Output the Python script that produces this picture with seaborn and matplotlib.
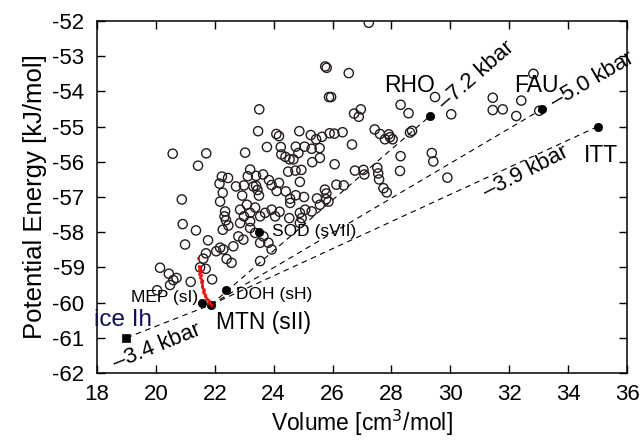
import matplotlib
matplotlib.use("Agg")
import matplotlib.pyplot as plt
import seaborn as sns
import pandas as pd

# ---------------- data ----------------
# open circles: hypothetical hydrate frameworks (volume, potential energy)
vol = [27.23, 25.75, 25.80, 26.55, 25.88, 25.95, 23.51, 26.73, 26.96, 26.89,
       28.31, 28.58, 29.48, 30.03, 31.44, 31.44, 31.78, 32.41, 32.24, 32.82,
       33.02,
       23.47, 24.87, 24.09, 24.18, 25.26, 25.44, 25.64, 25.90, 26.06, 26.34,
       27.43, 27.61, 27.78, 27.91, 28.04, 27.95, 28.63, 28.70, 26.66,
       23.77, 24.24, 24.75, 25.05, 25.29, 25.56, 20.57, 21.71, 23.03, 24.26,
       24.40, 24.54, 24.67, 24.84, 25.31, 25.57, 26.07, 28.31, 29.37, 29.42,
       21.43, 22.24, 22.45, 23.20, 23.12, 23.40, 23.64, 24.49, 24.74, 24.94,
       24.89, 26.76, 27.05, 27.08, 27.52, 27.55, 27.58, 28.29, 29.90,
       22.16, 22.72, 22.99, 23.31, 23.40, 23.45, 23.84, 23.93, 24.18, 24.10,
       24.41, 22.27, 22.93, 23.50, 24.56, 24.75, 25.03, 25.47, 25.74, 25.79,
       26.13, 26.38, 27.73, 27.84, 20.88, 22.18,
       23.09, 23.37, 23.20, 22.99, 23.54, 23.71, 23.93, 24.05, 24.20, 24.56,
       24.89, 24.95, 25.29, 25.57, 25.86, 22.35, 22.33, 22.38, 22.46, 22.27,
       22.86, 24.53, 25.07, 22.86, 23.20, 20.91, 24.89, 25.78,
       21.36, 22.80, 22.63, 22.97, 23.20, 23.37, 23.65, 23.54, 23.82, 23.93,
       23.54, 21.77, 20.99, 22.18, 22.05, 21.70, 22.29, 22.40, 22.57, 21.61,
       21.50, 21.69, 21.91, 20.14, 20.44, 20.70, 20.59, 20.48, 21.18, 20.04]
energy = [-52.05, -53.29, -53.33, -53.48, -54.16, -54.16, -54.51, -54.63, -54.51, -54.72,
          -54.38, -54.62, -54.16, -54.65, -54.18, -54.53, -54.51, -54.26, -54.70, -53.50,
          -54.55,
          -55.13, -55.13, -55.21, -55.27, -55.24, -55.36, -55.29, -55.19, -55.20, -55.16,
          -55.08, -55.21, -55.36, -55.22, -55.36, -55.30, -55.17, -55.12, -55.51,
          -55.58, -55.58, -55.57, -55.57, -55.63, -55.61, -55.77, -55.76, -55.74, -55.79,
          -55.86, -55.93, -55.93, -55.75, -56.01, -55.89, -56.07, -55.84, -55.75, -55.99,
          -56.11, -56.42, -56.46, -56.22, -56.41, -56.40, -56.36, -56.28, -56.25, -56.23,
          -56.57, -56.25, -56.23, -56.36, -56.17, -56.33, -56.50, -56.26, -56.45,
          -56.62, -56.70, -56.67, -56.70, -56.68, -56.80, -56.52, -56.66, -56.60, -56.83,
          -56.84, -56.88, -56.96, -56.96, -57.05, -56.95, -57.00, -57.04, -56.79, -56.90,
          -56.65, -56.67, -56.75, -56.87, -57.07, -57.13,
          -57.22, -57.30, -57.45, -57.55, -57.55, -57.45, -57.36, -57.55, -57.42, -57.17,
          -57.45, -57.60, -57.41, -57.22, -57.13, -57.41, -57.55, -57.66, -57.81, -57.93,
          -57.36, -57.60, -57.36, -57.74, -57.69, -57.77, -57.74, -57.06,
          -57.95, -58.12, -58.40, -58.21, -57.88, -58.02, -58.12, -58.30, -58.30, -58.49,
          -58.82, -58.23, -58.35, -58.44, -58.54, -58.60, -58.49, -58.76, -58.87, -58.75,
          -59.00, -59.04, -59.34, -59.01, -59.18, -59.30, -59.36, -59.50, -59.41, -59.65]

# red markers: simulation trajectory near sI / sII
red_vol = [21.44, 21.45, 21.47, 21.49, 21.46, 21.50, 21.48, 21.52, 21.50, 21.53,
           21.55, 21.52, 21.56, 21.58, 21.55, 21.60, 21.62, 21.60, 21.65, 21.68,
           21.66, 21.70, 21.73, 21.76, 21.80, 21.78, 21.84, 21.87, 21.52, 21.58]
red_energy = [-58.73, -58.95, -59.00, -59.05, -59.08, -59.12, -59.18, -59.22, -59.28, -59.33,
              -59.38, -59.42, -59.47, -59.52, -59.56, -59.60, -59.65, -59.70, -59.74, -59.78,
              -59.82, -59.86, -59.90, -59.93, -59.96, -60.00, -60.02, -60.06, -59.10, -59.40]

# labelled phases
phase_names = ["MEP", "MTN", "DOH", "SOD", "RHO", "FAU", "ITT"]
phase_vol = [21.57, 21.87, 22.38, 23.51, 29.31, 33.10, 35.00]
phase_energy = [-60.00, -60.06, -59.65, -57.99, -54.70, -54.51, -55.00]
ice_vol = [19.0]
ice_energy = [-61.0]

# common-tangent lines (start phase, end phase) and their pressures
tangent_start = ["ice", "MTN", "MTN", "MTN"]
tangent_end = ["MTN", "RHO", "FAU", "ITT"]
pressure_labels = ["\u20133.4 kbar", "\u20137.2 kbar", "\u20135.0 kbar", "\u20133.9 kbar"]

x_ticks = [18, 20, 22, 24, 26, 28, 30, 32, 34, 36]
y_ticks = [-62, -61, -60, -59, -58, -57, -56, -55, -54, -53, -52]

# ---------------- plot ----------------
sns.set_theme(style="ticks")
plt.rcParams["font.family"] = ["Liberation Sans", "DejaVu Sans"]
plt.rcParams["axes.unicode_minus"] = False
for k in ["text.color", "axes.labelcolor", "xtick.color", "ytick.color", "axes.edgecolor"]:
    plt.rcParams[k] = "black"

fig = plt.figure(figsize=(6.43, 4.43), dpi=100)
ax = fig.add_axes([0.1509, 0.158, 0.8242, 0.7946])

pts = {n: (v, e) for n, v, e in zip(phase_names, phase_vol, phase_energy)}
pts["ice"] = (ice_vol[0], ice_energy[0])
for a, b in zip(tangent_start, tangent_end):
    ax.plot([pts[a][0], pts[b][0]], [pts[a][1], pts[b][1]], color="black",
            lw=0.8, ls=(0, (5, 4)), zorder=1)

df = pd.DataFrame({"vol": vol, "energy": energy})
sns.scatterplot(data=df, x="vol", y="energy", ax=ax, marker="o", s=44,
                facecolors="none", edgecolor="#231c1c", linewidth=1.0,
                legend=False, zorder=3)

sns.scatterplot(x=phase_vol, y=phase_energy, ax=ax, marker="o", s=36,
                color="black", edgecolor="black", linewidth=0.5, legend=False, zorder=4)
sns.scatterplot(x=ice_vol, y=ice_energy, ax=ax, marker="s", s=40,
                color="black", edgecolor="black", linewidth=0.5, legend=False, zorder=4)
sns.scatterplot(x=red_vol, y=red_energy, ax=ax, marker="s", s=3,
                color="red", edgecolor="red", linewidth=0.4, legend=False, zorder=5)

# text annotations
ax.text(30.87, -53.54, pressure_labels[1], rotation=41, fontsize=16, ha="center", va="center")
ax.text(34.83, -53.68, pressure_labels[2], rotation=30, fontsize=16, ha="center", va="center")
ax.text(32.56, -56.30, pressure_labels[3], rotation=27, fontsize=16, ha="center", va="center")
ax.text(20.04, -61.25, pressure_labels[0], rotation=22, fontsize=16, ha="center", va="center")
ax.text(28.6, -53.82, "RHO", fontsize=16.5, ha="center", va="center")
ax.text(32.91, -53.83, "FAU", fontsize=16.5, ha="center", va="center")
ax.text(35.12, -55.81, "ITT", fontsize=16.5, ha="center", va="center")
ax.text(23.67, -60.56, "MTN (sII)", fontsize=16.5, ha="center", va="center")
ax.text(18.87, -60.5, "ice Ih", fontsize=17.5, ha="center", va="center", color="#10105a")
ax.text(20.29, -59.86, "MEP (sI)", fontsize=12.5, ha="center", va="center")
ax.text(24.01, -59.77, "DOH (sH)", fontsize=12.5, ha="center", va="center")
ax.text(23.93, -57.99, "SOD (sVII)", fontsize=12.5, ha="left", va="center")

ax.set_xlim(18, 36)
ax.set_ylim(-62, -52)
ax.set_xticks(x_ticks)
ax.set_yticks(y_ticks)
ax.set_xticklabels([str(t) for t in x_ticks])
ax.set_yticklabels([str(t) for t in y_ticks])
ax.tick_params(direction="in", length=6, width=1, top=True, right=True,
               labelsize=16, color="black")
ax.tick_params(axis="y", pad=9)
ax.tick_params(axis="x", pad=8)
for s in ax.spines.values():
    s.set_visible(True)
    s.set_linewidth(1.1)
    s.set_color("black")
ax.set_xlabel("Volume [cm$^3$/mol]", fontsize=16.5, labelpad=2)
ax.set_ylabel("Potential Energy [kJ/mol]", fontsize=18.5, labelpad=4)

fig.savefig("out.png", dpi=100)
